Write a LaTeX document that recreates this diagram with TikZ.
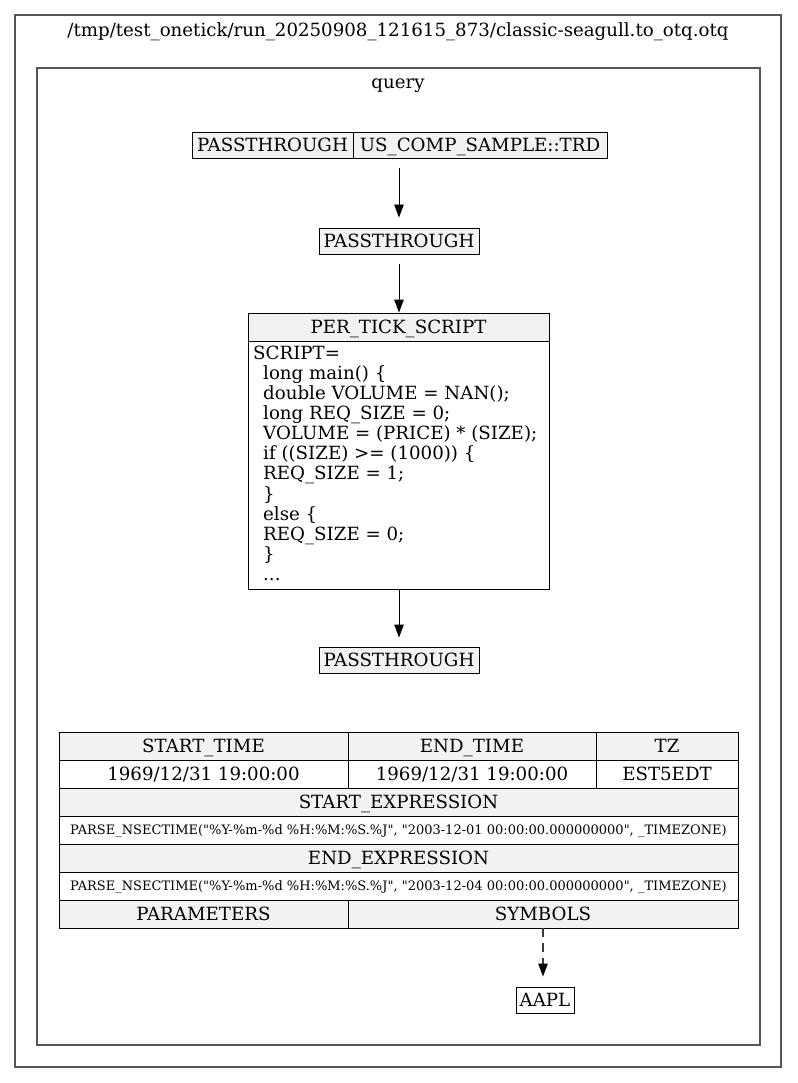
\documentclass[tikz,border=0pt]{standalone}
\usepackage{fontspec}
\setmainfont{DejaVu Serif}[Ligatures=TeXOff]
\usetikzlibrary{arrows.meta}
\definecolor{hdr}{HTML}{F2F2F2}
\definecolor{clus}{HTML}{555555}
\definecolor{dash}{HTML}{3A3A3A}
\tikzset{
  cluster/.style={draw=clus, line width=1.2pt},
  fnt/.style={font=\fontsize{18.2}{20.1}\selectfont},
  lbl/.style={fnt, inner sep=0pt},
  txt/.style={fnt, inner sep=0pt, text height=15.1pt, text depth=1.8pt},
  box/.style={txt, draw=black, line width=0.9pt, minimum height=26pt},
  gbox/.style={box, fill=hdr},
  cell/.style={txt, draw=black, line width=0.9pt, minimum height=28pt},
  gcell/.style={cell, fill=hdr},
  small/.style={font=\fontsize{13}{14}\selectfont, text height=10.9pt, text depth=1.4pt},
  arr/.style={draw=black, line width=0.9pt, -{Triangle[length=13pt,width=9.5pt,color=black]}},
  darr/.style={arr, draw=dash, line width=1.1pt, dash pattern=on 9pt off 6pt},
}
\begin{document}
\begin{tikzpicture}[x=1pt,y=-1pt]
\useasboundingbox (0,0) rectangle (797,1083);
% clusters
\draw[cluster] (15,15) rectangle (781,1067);
\node[txt] (ttl) at (398,30) {/tmp/test\_onetick/run\_20250908\_121615\_873/classic-seagull.to\_otq.otq};
\draw[cluster] (37,68) rectangle (760,1045);
\node[txt] (qry) at (398,82) {query};
% top record node
\node[gbox, minimum width=161pt] (p1a) at (272.5,145) {PASSTHROUGH};
\node[gbox, minimum width=254pt] (p1b) at (480,145) {US\_COMP\_SAMPLE::TRD};
\node[gbox, minimum width=160pt] (p2) at (399,241) {PASSTHROUGH};
% per tick script
\node[gcell, minimum width=301pt] (ptsh) at (398.5,327) {PER\_TICK\_SCRIPT};
\node[cell, minimum width=301pt, minimum height=248pt] (ptsb) at (398.5,465) {};
\node[lbl, anchor=base west] (ptst) at (253,359.3) {\begin{minipage}[t]{292pt}\raggedright\baselineskip=20.1pt
SCRIPT=\\
\hspace*{10pt}long main() \{\\
\hspace*{10pt}double VOLUME = NAN();\\
\hspace*{10pt}long REQ\_SIZE = 0;\\
\hspace*{10pt}VOLUME = (PRICE) * (SIZE);\\
\hspace*{10pt}if ((SIZE) >= (1000)) \{\\
\hspace*{10pt}REQ\_SIZE = 1;\\
\hspace*{10pt}\}\\
\hspace*{10pt}else \{\\
\hspace*{10pt}REQ\_SIZE = 0;\\
\hspace*{10pt}\}\\
\hspace*{10pt}...\par\end{minipage}};
\node[gbox, minimum width=160pt] (p3) at (399,660) {PASSTHROUGH};
% table
\node[gcell, minimum width=289pt] (st) at (203.5,746) {START\_TIME};
\node[gcell, minimum width=248pt] (et) at (472,746) {END\_TIME};
\node[gcell, minimum width=142pt] (tz) at (667,746) {TZ};
\node[cell, minimum width=289pt] (stv) at (203.5,774) {1969/12/31 19:00:00};
\node[cell, minimum width=248pt] (etv) at (472,774) {1969/12/31 19:00:00};
\node[cell, minimum width=142pt] (tzv) at (667,774) {EST5EDT};
\node[gcell, minimum width=679pt] (se) at (398.5,802) {START\_EXPRESSION};
\node[cell, small, minimum width=679pt] (sev) at (398.5,830) {PARSE\_NSECTIME("\%Y-\%m-\%d \%H:\%M:\%S.\%J", "2003-12-01 00:00:00.000000000", \_TIMEZONE)};
\node[gcell, minimum width=679pt] (ee) at (398.5,858) {END\_EXPRESSION};
\node[cell, small, minimum width=679pt] (eev) at (398.5,886) {PARSE\_NSECTIME("\%Y-\%m-\%d \%H:\%M:\%S.\%J", "2003-12-04 00:00:00.000000000", \_TIMEZONE)};
\node[gcell, minimum width=289pt] (par) at (203.5,914) {PARAMETERS};
\node[gcell, minimum width=390pt] (sym) at (543,914) {SYMBOLS};
\node[box, minimum width=58pt] (aapl) at (545,1000) {AAPL};
% connectors
\draw[arr, shorten <=10pt, shorten >=10pt] (p1b.south -| p2.north) -- (p2.north);
\draw[arr, shorten <=10pt] (p2.south) -- (ptsh.north -| p2.south);
\draw[arr, shorten >=9pt] (ptsb.south -| p3.north) -- (p3.north);
\draw[darr, shorten >=10pt] (sym.south) -- (sym.south |- aapl.north);
\end{tikzpicture}
\end{document}
